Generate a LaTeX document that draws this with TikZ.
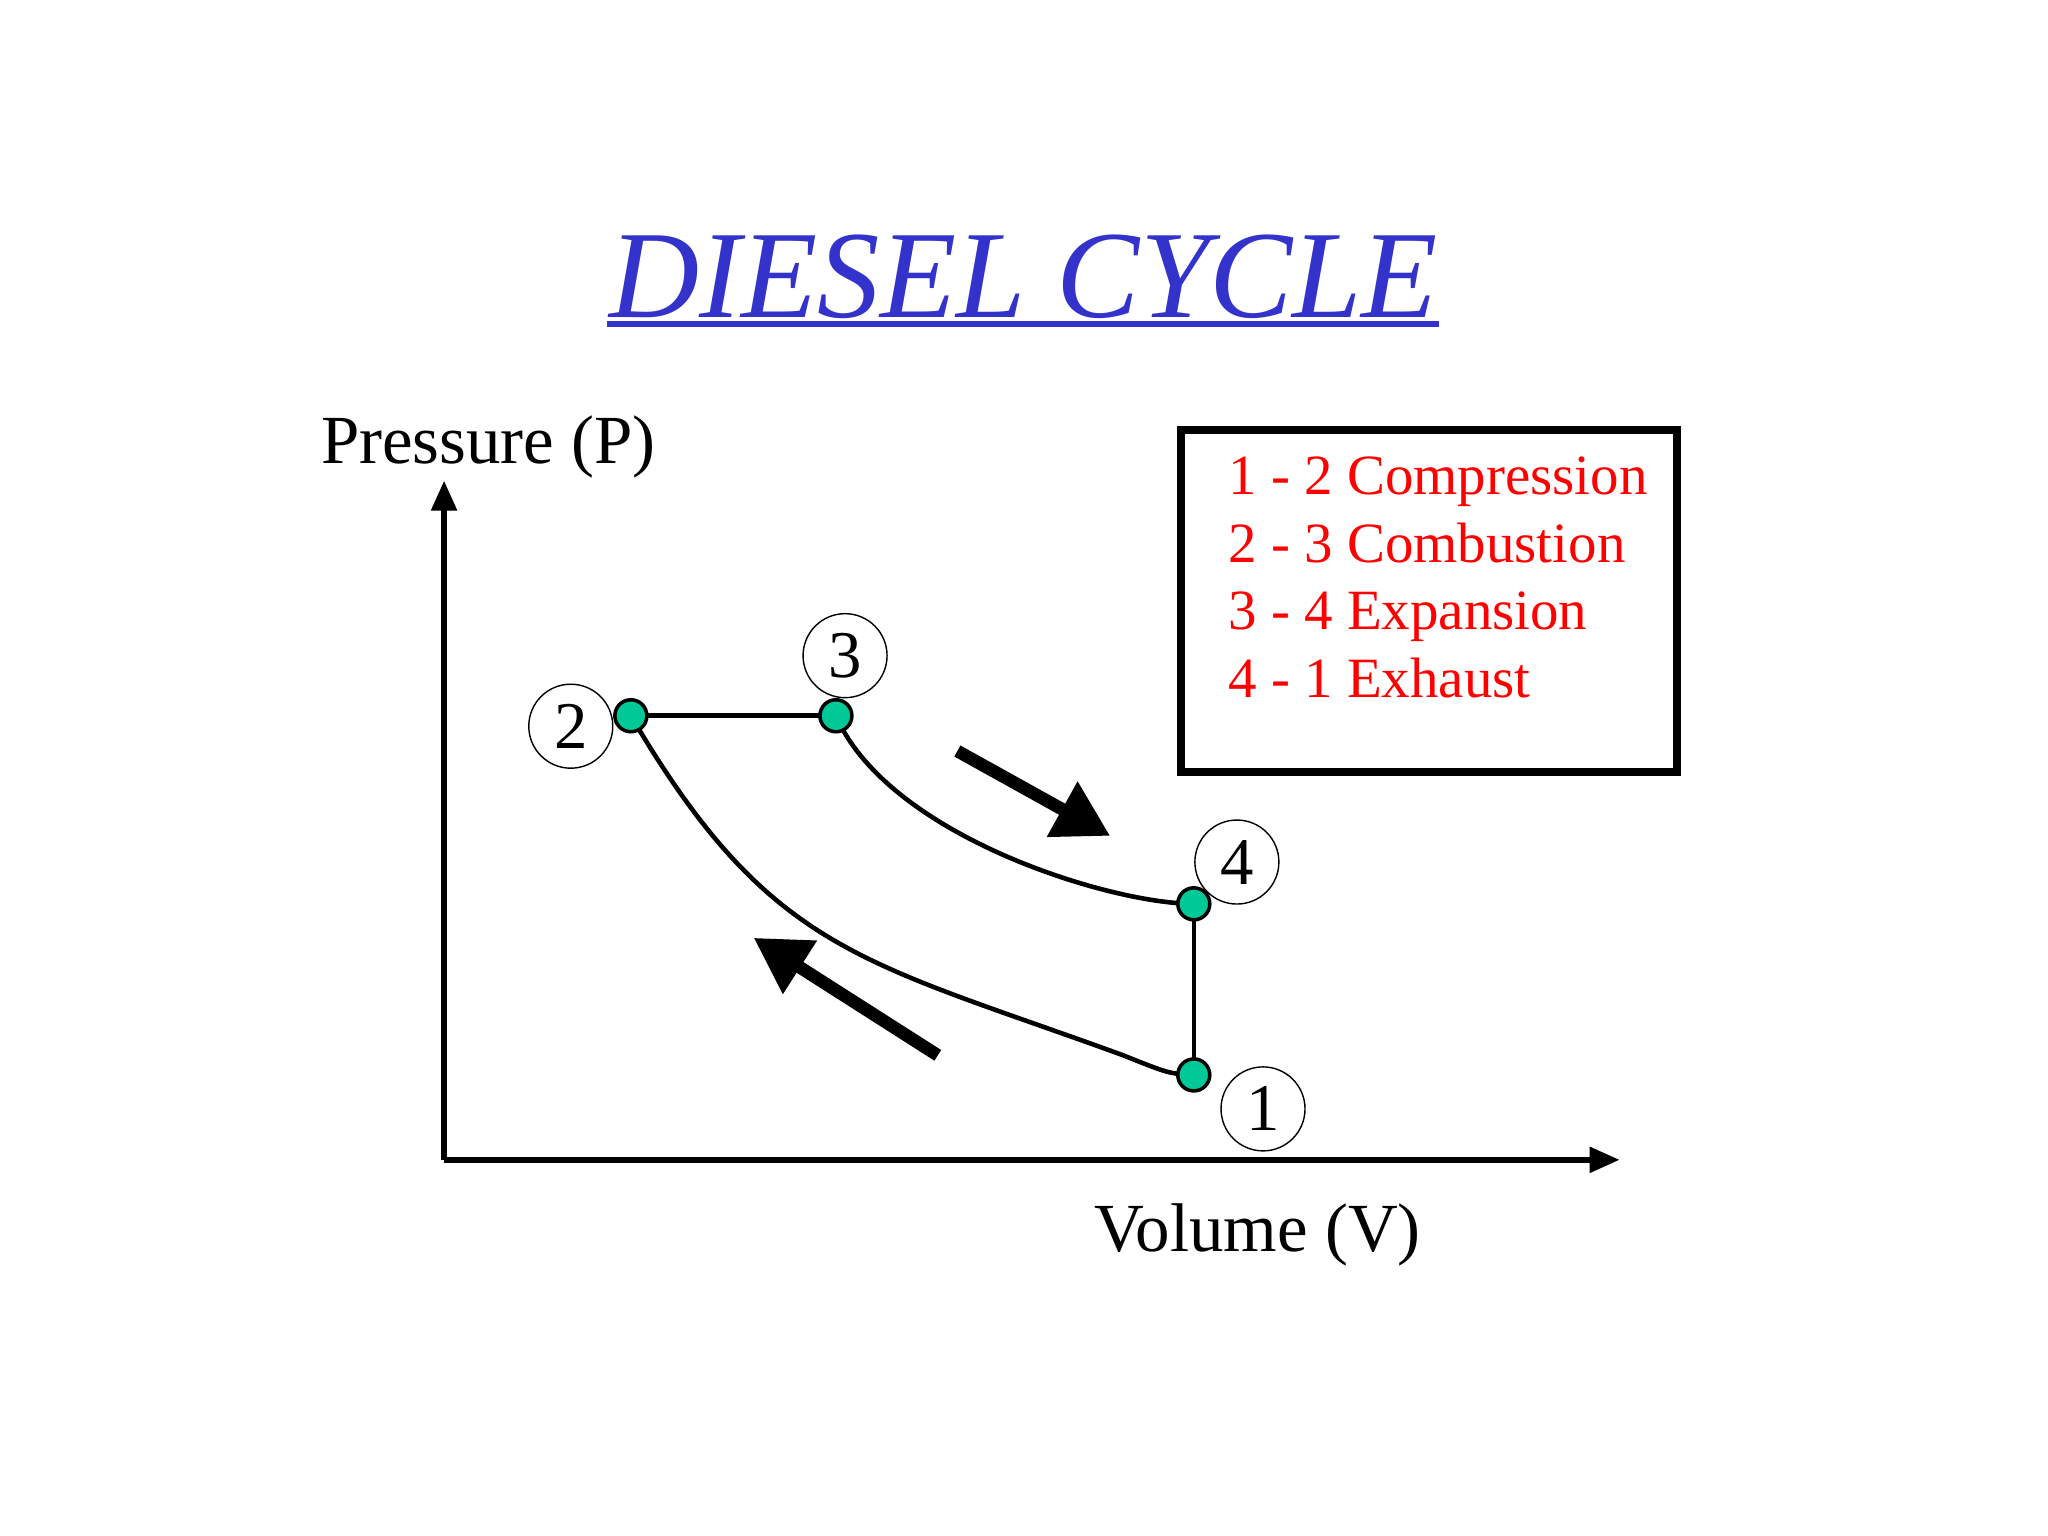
\documentclass[tikz,border=0pt]{standalone}
\usepackage{fontspec}
\setmainfont{Liberation Serif}
\usetikzlibrary{arrows.meta}
\definecolor{dotg}{HTML}{00C896}
\definecolor{titleblue}{HTML}{3333CC}
\begin{document}
\begin{tikzpicture}[x=0.013061cm,y=-0.013061cm,
  lbl/.style={circle,draw,thin,minimum size=0.84cm,inner sep=0pt,font=\fontsize{19}{20}\selectfont},
  dot/.style={circle,fill=dotg,draw=black,line width=1pt,minimum size=0.32cm,inner sep=0pt},
  curve/.style={line width=1.3pt},
  big/.style={line width=3.6pt,-{Triangle[length=0.55cm,width=0.6cm]}},
  axis/.style={line width=1.6pt,-{Triangle[length=0.3cm,width=0.25cm]}}]
\useasboundingbox (0,0) rectangle (1568,1176);
\node[font=\fontsize{35.5}{40}\selectfont\itshape,text=titleblue,anchor=base] (title) at (784,243) {DIESEL CYCLE};
\draw[titleblue,line width=1.5pt] (465,248) -- (1102,248);
\coordinate (O) at (340,888);
\coordinate (ytop) at (340,368);
\coordinate (xend) at (1240,888);
\draw[axis] (O) -- (ytop);
\draw[axis] (O) -- (xend);
\node[font=\fontsize{19.6}{24}\selectfont,anchor=base] (py) at (374,355) {Pressure (P)};
\node[font=\fontsize{19.6}{24}\selectfont,anchor=base] (vx) at (963,958) {Volume (V)};
\node[draw,line width=2.2pt,minimum width=380*0.013061cm,minimum height=262*0.013061cm,anchor=north west] (box) at (901,326) {};
\node[anchor=north west,text=red,font=\fontsize{16.2}{19.3}\selectfont,align=left,inner sep=0pt] (legend) at (940,349) {1 - 2 Compression\\2 - 3 Combustion\\3 - 4 Expansion\\4 - 1 Exhaust};
\coordinate (p2) at (483,548);
\coordinate (p3) at (640,548);
\coordinate (p4) at (914,692);
\coordinate (p1) at (914,823);
\draw[curve] (p2) -- (p3);
\draw[curve] (p3) .. controls (680,640) and (850,692) .. (p4);
\draw[curve] (p4) -- (p1);
\draw[curve] (p2) .. controls (590,730) and (660,735) .. (860,808) .. controls (895,822) .. (p1);
\node[dot] (d2) at (p2) {};
\node[dot] (d3) at (p3) {};
\node[dot] (d4) at (p4) {};
\node[dot] (d1) at (p1) {};
\node[lbl] (l2) at (437,556) {2};
\node[lbl] (l3) at (647,502) {3};
\node[lbl] (l4) at (947,660) {4};
\node[lbl] (l1) at (967,849) {1};
\coordinate (a1s) at (733,575); \coordinate (a1e) at (850,640);
\coordinate (a2s) at (718,808); \coordinate (a2e) at (577,718);
\draw[big] (a1s) -- (a1e);
\draw[big] (a2s) -- (a2e);
\end{tikzpicture}
\end{document}
